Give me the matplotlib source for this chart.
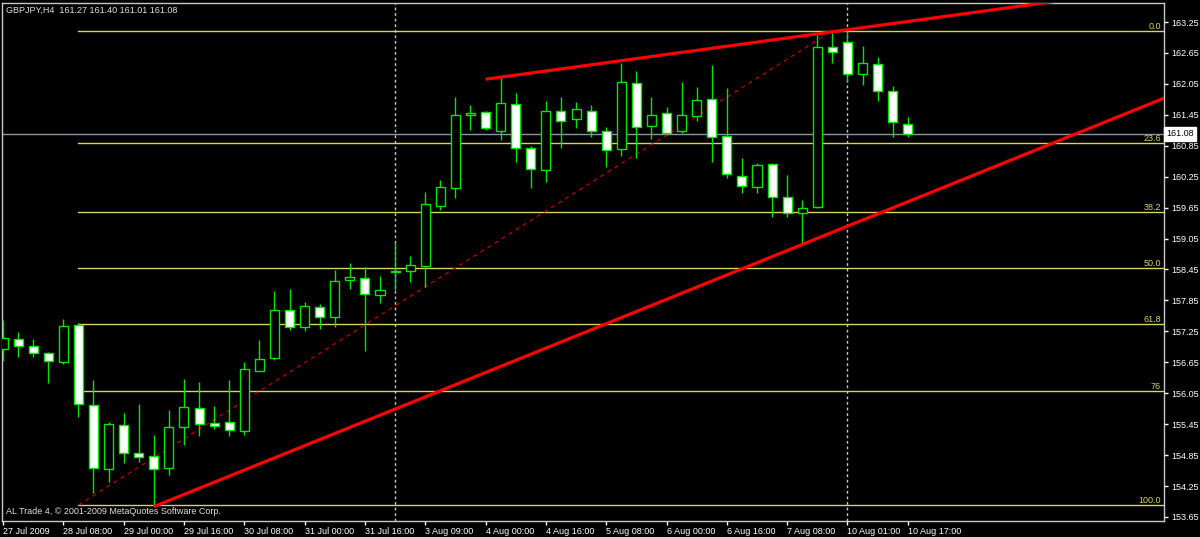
import matplotlib
matplotlib.use('Agg')
import matplotlib.pyplot as plt
import matplotlib.transforms as mtransforms
import numpy as np

# GBPJPY H4 bars, 27 Jul 16:00 .. 10 Aug 17:00
opens = [156.91, 157.10, 156.97, 156.83, 156.66, 157.37, 155.82, 154.58, 155.43, 154.89,
         154.83, 154.60, 155.40, 155.76, 155.47, 155.49, 155.32, 156.48, 156.73, 157.66,
         157.33, 157.72, 157.53, 158.25, 158.29, 157.95, 158.40, 158.42, 158.52, 159.68,
         160.03, 161.45, 161.50, 161.14, 161.66, 160.81, 160.38, 161.52, 161.37, 161.52,
         161.14, 160.79, 162.07, 161.23, 161.49, 161.14, 161.43, 161.76, 161.04, 160.26,
         160.05, 160.50, 159.86, 159.55, 159.66, 162.77, 162.86, 162.24, 162.44, 161.91,
         161.27]
highs = [157.47, 157.24, 157.10, 156.85, 157.49, 157.41, 156.31, 155.49, 155.67, 155.84,
         155.24, 155.73, 156.33, 156.27, 155.80, 156.31, 156.66, 157.08, 158.03, 158.07,
         157.82, 157.78, 158.44, 158.58, 158.50, 158.32, 158.96, 158.71, 159.95, 160.18,
         161.80, 161.64, 161.52, 162.16, 161.87, 160.84, 161.72, 161.80, 161.70, 161.64,
         161.21, 162.45, 162.30, 161.80, 161.60, 162.09, 161.99, 162.42, 161.97, 160.61,
         160.52, 160.52, 160.28, 159.80, 163.00, 163.08, 163.05, 162.78, 162.57, 162.01,
         161.40]
lows = [156.67, 156.75, 156.75, 156.25, 156.62, 155.59, 154.11, 154.33, 154.70, 154.72,
        153.88, 154.46, 155.05, 155.22, 155.36, 155.22, 155.24, 156.48, 156.69, 157.28,
        157.26, 157.30, 157.33, 158.07, 156.87, 157.80, 158.05, 158.21, 158.11, 159.60,
        159.84, 161.16, 161.16, 160.96, 160.53, 160.03, 160.15, 160.81, 161.19, 161.02,
        160.44, 160.65, 160.61, 160.98, 161.06, 161.10, 161.33, 160.53, 160.22, 159.93,
        159.93, 159.47, 159.47, 158.96, 159.64, 162.45, 162.09, 162.03, 161.72, 161.02,
        161.01]
closes = [157.12, 156.97, 156.83, 156.67, 157.35, 155.84, 154.60, 155.45, 154.89, 154.81,
          154.58, 155.40, 155.78, 155.45, 155.41, 155.34, 156.52, 156.71, 157.66, 157.33,
          157.74, 157.53, 158.23, 158.30, 157.97, 158.05, 158.42, 158.54, 159.72, 160.05,
          161.45, 161.49, 161.19, 161.68, 160.81, 160.40, 161.52, 161.33, 161.56, 161.14,
          160.77, 162.09, 161.21, 161.45, 161.10, 161.45, 161.74, 161.02, 160.30, 160.07,
          160.48, 159.86, 159.55, 159.64, 162.77, 162.67, 162.24, 162.45, 161.91, 161.31,
          161.08]

time_labels = ['27 Jul 2009', '28 Jul 08:00', '29 Jul 00:00', '29 Jul 16:00', '30 Jul 08:00',
               '31 Jul 00:00', '31 Jul 16:00', '3 Aug 09:00', '4 Aug 00:00', '4 Aug 16:00',
               '5 Aug 08:00', '6 Aug 00:00', '6 Aug 16:00', '7 Aug 08:00', '10 Aug 01:00',
               '10 Aug 17:00']
price_ticks = [163.25, 162.65, 162.05, 161.45, 160.85, 160.25, 159.65, 159.05, 158.45,
               157.85, 157.25, 156.65, 156.05, 155.45, 154.85, 154.25, 153.65]

# week separators (bar index)
separators = [26, 56]

# fibonacci retracement: (bar, price) of low and high
fib_low = (5, 153.88)
fib_high = (55, 163.08)
fib_levels = [0.0, 23.6, 38.2, 50.0, 61.8, 76.0, 100.0]
fib_names = ['0.0', '23.6', '38.2', '50.0', '61.8', '76', '100.0']

# trend lines (bar, price) pairs
upper_trend = [(32, 162.14), (55, 163.06)]
lower_trend = [(10, 153.85), (56, 159.29)]

last_price = 161.08
header = 'GBPJPY,H4  161.27 161.40 161.01 161.08'
footer = 'AL Trade 4, \u00a9 2001-2009 MetaQuotes Software Corp.'

plt.rcParams['font.family'] = ['Liberation Sans', 'DejaVu Sans']

W, H = 1200, 537
fig = plt.figure(figsize=(W / 100, H / 100), dpi=100, facecolor='black')
ax = fig.add_axes([2 / W, 1 - 521 / H, (1164 - 2) / W, (521 - 3) / H])
ax.set_facecolor('black')

n = len(opens)
idx = np.arange(n)
o = np.array(opens)
c = np.array(closes)
green = '#00e600'

# fib levels and current price line go behind the candles
span = fib_high[1] - fib_low[1]
px_x = mtransforms.blended_transform_factory(mtransforms.IdentityTransform(), ax.transData)
for lvl, name in zip(fib_levels, fib_names):
    p = fib_high[1] - span * lvl / 100
    ax.plot([fib_low[0], 90], [p, p], color='#d6d65a', lw=1, zorder=1)
    ax.text(1161, p, name, color='#d6d65a', fontsize=6.5, ha='right', va='bottom',
            transform=px_x, zorder=2)
ax.axhline(last_price, color='#8a96a6', lw=1, zorder=1)

for s in separators:
    ax.axvline(s, color='#c8c8c8', lw=1, ls=(0, (2, 2)), zorder=1)

ax.plot([fib_low[0], fib_high[0]], [fib_low[1], fib_high[1]], color='#b00000', lw=1,
        ls=(0, (3, 3)), zorder=2)

# candles
ax.vlines(idx, lows, highs, color=green, lw=1, zorder=3)
bottoms = np.minimum(o, c)
heights = np.maximum(np.abs(c - o), 0.012)
faces = ['black' if cl > op else 'white' for op, cl in zip(o, c)]
ax.bar(idx, heights, bottom=bottoms, width=0.6, color=faces, edgecolor=green,
       linewidth=1, zorder=4)

# trend lines as rays
for (x0, y0), (x1, y1) in [upper_trend, lower_trend]:
    k = (y1 - y0) / (x1 - x0)
    ax.plot([x0, 90], [y0, y0 + k * (90 - x0)], color='#ff0000', lw=2.3,
            solid_capstyle='butt', zorder=5)

ax.set_xlim((2 - 3) / 15.08, (1164 - 3) / 15.08)
ax.set_ylim(163.25 - 499 / 51.56, 163.25 + 19 / 51.56)

ax.yaxis.tick_right()
ax.set_yticks(price_ticks)
ax.set_yticklabels(['%.2f' % t for t in price_ticks])
ax.set_xticks(np.arange(0, n, 4))
ax.set_xticklabels(time_labels, ha='left')
ax.tick_params(colors='white', labelsize=6.5, length=3, width=1, pad=2)
ax.tick_params(axis='x', pad=1)
for sp in ax.spines.values():
    sp.set_color('#c8c8c8')
    sp.set_linewidth(1)

# last price marker on the price axis
ax.text(1.002, last_price, '%.2f' % last_price, transform=ax.get_yaxis_transform(),
        fontsize=6.5, color='black', va='center', ha='left',
        bbox=dict(boxstyle='square,pad=0.25', facecolor='white', edgecolor='white'),
        zorder=10)

fig.text(6 / W, 1 - 10 / H, header, color='#e0e0e0', fontsize=6.5, va='center', ha='left')
fig.text(6 / W, 1 - 512 / H, footer, color='#e0e0e0', fontsize=6.5, va='center', ha='left')

fig.savefig('out.png', dpi=100, facecolor='black')
